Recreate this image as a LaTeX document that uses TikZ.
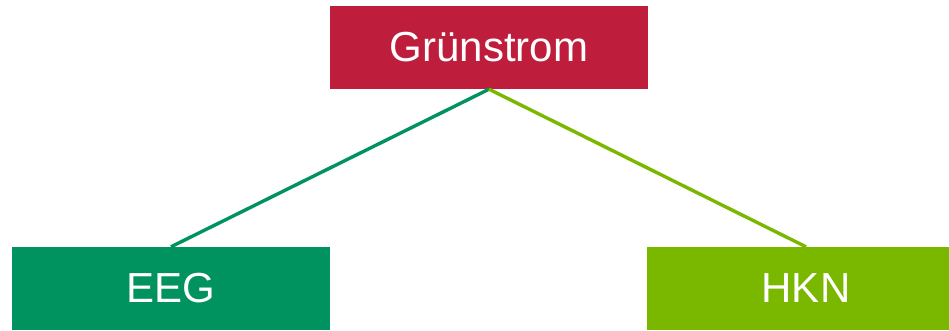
\documentclass[tikz,border=0pt]{standalone}
\usepackage{fontspec}
\setmainfont{Liberation Sans}
\definecolor{boxred}{HTML}{BE1E3C}
\definecolor{eeggreen}{HTML}{00925F}
\definecolor{hkngreen}{HTML}{7AB800}
\begin{document}
\begin{tikzpicture}[x=1pt,y=-1pt,
  catbox/.style={minimum width=318pt,minimum height=83pt,inner sep=0pt,
    text=white,font=\fontsize{42}{50}\selectfont},
  link/.style={line width=3.4pt}]
\useasboundingbox (0,0) rectangle (949,330);
\clip (0,0) rectangle (949,330);
\node[catbox,fill=boxred] (gs) at (489,47.5) {Grünstrom};
\node[catbox,fill=eeggreen] (eeg) at (171,288.5) {EEG};
\node[catbox,fill=hkngreen] (hkn) at (806,288.5) {HKN};
\draw[link,eeggreen] (gs.south) -- (eeg.north);
\draw[link,hkngreen] (gs.south) -- (hkn.north);
\end{tikzpicture}
\end{document}
